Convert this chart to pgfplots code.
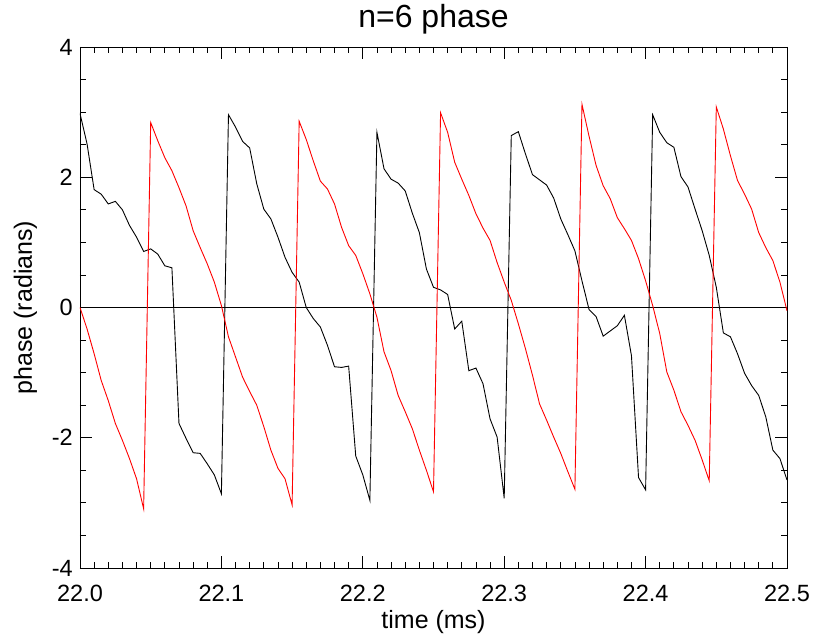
\documentclass[border=0pt]{standalone}
\usepackage{fontspec}
\setmainfont{Liberation Sans}
\usepackage{pgfplots}
\usepackage{pgfplotstable}
\pgfplotsset{compat=1.18}

\pgfplotstableread{
t v
22.000 2.98
22.005 2.51
22.010 1.81
22.015 1.74
22.020 1.59
22.025 1.63
22.030 1.50
22.035 1.26
22.040 1.08
22.045 0.86
22.050 0.90
22.055 0.82
22.060 0.64
22.065 0.61
22.070 -1.78
22.075 -2.01
22.080 -2.23
22.085 -2.24
22.090 -2.40
22.095 -2.57
22.100 -2.86
22.105 2.96
22.110 2.77
22.115 2.55
22.120 2.45
22.125 1.90
22.130 1.51
22.135 1.36
22.140 1.08
22.145 0.77
22.150 0.54
22.155 0.39
22.160 0.00
22.165 -0.17
22.170 -0.30
22.175 -0.58
22.180 -0.91
22.185 -0.92
22.190 -0.90
22.195 -2.28
22.200 -2.57
22.205 -2.96
22.210 2.69
22.215 2.13
22.220 1.97
22.225 1.91
22.230 1.79
22.235 1.45
22.240 1.15
22.245 0.59
22.250 0.31
22.255 0.27
22.260 0.20
22.265 -0.33
22.270 -0.21
22.275 -0.97
22.280 -0.93
22.285 -1.17
22.290 -1.71
22.295 -1.99
22.300 -2.93
22.305 2.64
22.310 2.70
22.315 2.36
22.320 2.04
22.325 1.96
22.330 1.88
22.335 1.68
22.340 1.36
22.345 1.12
22.350 0.87
22.355 0.41
22.360 -0.03
22.365 -0.14
22.370 -0.44
22.375 -0.36
22.380 -0.28
22.385 -0.12
22.390 -0.74
22.395 -2.61
22.400 -2.80
22.405 2.96
22.410 2.69
22.415 2.53
22.420 2.46
22.425 2.01
22.430 1.85
22.435 1.51
22.440 1.18
22.445 0.80
22.450 0.31
22.455 -0.39
22.460 -0.45
22.465 -0.71
22.470 -1.01
22.475 -1.20
22.480 -1.35
22.485 -1.68
22.490 -2.19
22.495 -2.32
22.500 -2.65
}\blackdata

\pgfplotstableread{
t v
22.000 0.00
22.005 -0.33
22.010 -0.71
22.015 -1.12
22.020 -1.43
22.025 -1.78
22.030 -2.04
22.035 -2.32
22.040 -2.63
22.045 -3.09
22.050 2.84
22.055 2.56
22.060 2.30
22.065 2.10
22.070 1.84
22.075 1.56
22.080 1.18
22.085 0.92
22.090 0.67
22.095 0.39
22.100 0.03
22.105 -0.45
22.110 -0.76
22.115 -1.07
22.120 -1.29
22.125 -1.50
22.130 -1.83
22.135 -2.19
22.140 -2.47
22.145 -2.63
22.150 -3.03
22.155 2.86
22.160 2.58
22.165 2.25
22.170 1.94
22.175 1.82
22.180 1.59
22.185 1.23
22.190 0.95
22.195 0.80
22.200 0.52
22.205 0.21
22.210 -0.15
22.215 -0.68
22.220 -0.97
22.225 -1.35
22.230 -1.60
22.235 -1.86
22.240 -2.19
22.245 -2.50
22.250 -2.83
22.255 2.99
22.260 2.69
22.265 2.23
22.270 1.97
22.275 1.72
22.280 1.44
22.285 1.22
22.290 1.03
22.295 0.69
22.300 0.39
22.305 0.11
22.310 -0.25
22.315 -0.63
22.320 -1.04
22.325 -1.48
22.330 -1.73
22.335 -1.99
22.340 -2.24
22.345 -2.52
22.350 -2.79
22.355 3.12
22.360 2.63
22.365 2.18
22.370 1.87
22.375 1.67
22.380 1.38
22.385 1.21
22.390 1.03
22.395 0.75
22.400 0.41
22.405 0.03
22.410 -0.40
22.415 -0.99
22.420 -1.27
22.425 -1.60
22.430 -1.81
22.435 -2.04
22.440 -2.34
22.445 -2.66
22.450 3.08
22.455 2.74
22.460 2.33
22.465 1.95
22.470 1.74
22.475 1.51
22.480 1.15
22.485 0.92
22.490 0.72
22.495 0.39
22.500 -0.05
}\reddata

\begin{document}
\begin{tikzpicture}
\path[use as bounding box] (-80bp,-66bp) rectangle (737bp,568bp);
\begin{axis}[
  scale only axis,
  width=707bp, height=521bp,
  xmin=22, xmax=22.5, ymin=-4, ymax=4,
  xtick={22,22.1,22.2,22.3,22.4,22.5},
  xticklabels={22.0,22.1,22.2,22.3,22.4,22.5},
  ytick={-4,-2,0,2,4},
  yticklabels={-4,-2,0,2,4},
  minor x tick num=9,
  minor y tick num=3,
  tick align=inside,
  major tick length=12bp,
  minor tick length=6bp,
  axis line style={black, line width=0.8bp},
  every tick/.style={black, line width=0.8bp},
  tick label style={font=\fontsize{23.5bp}{28bp}\selectfont, inner sep=0pt},
  xticklabel style={anchor=base, yshift=-33bp},
  yticklabel style={anchor=east, xshift=-7bp},
  title={n=6 phase},
  title style={at={(axis description cs:0.5,1.0263)}, anchor=base, inner sep=0pt,
    font=\fontsize{32bp}{38bp}\selectfont},
  xlabel={time (ms)},
  xlabel style={at={(axis description cs:0.5,-0.117)}, anchor=base, inner sep=0pt,
    font=\fontsize{25bp}{30bp}\selectfont},
  ylabel={phase (radians)},
  ylabel style={at={(axis description cs:-0.068,0.5)}, anchor=base, rotate=0, inner sep=0pt,
    font=\fontsize{25bp}{30bp}\selectfont},
]
\addplot[black, line width=0.9bp] coordinates {(22,0) (22.5,0)};
\addplot[black, line width=0.9bp] table[x=t, y=v] {\blackdata};
\addplot[red, line width=0.9bp] table[x=t, y=v] {\reddata};
\end{axis}
\end{tikzpicture}
\end{document}
